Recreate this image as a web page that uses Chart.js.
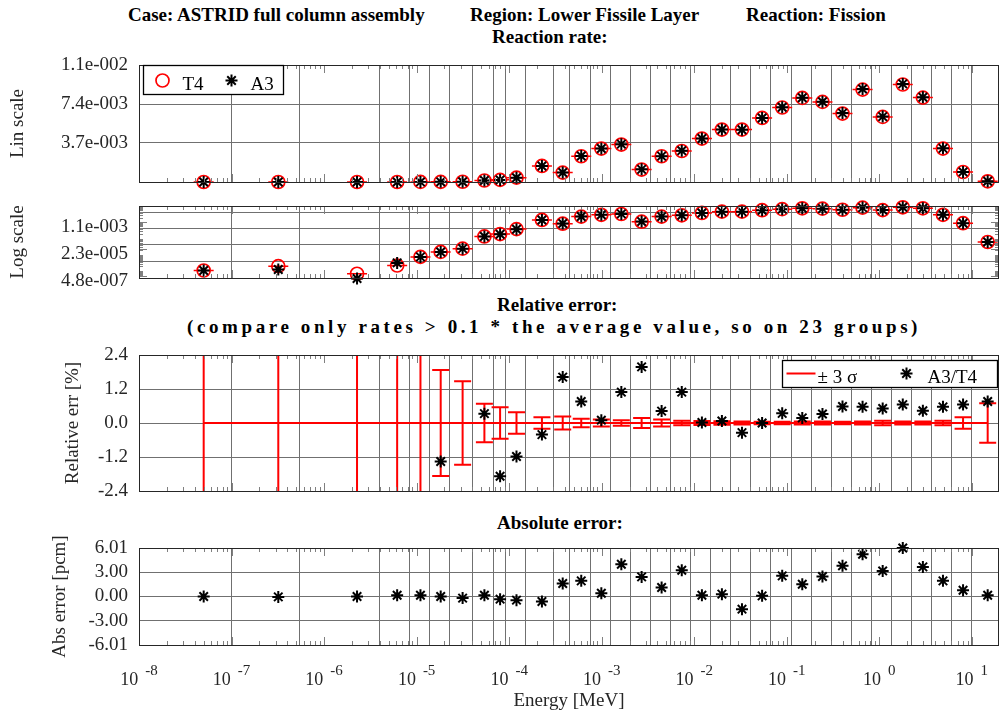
<!DOCTYPE html>
<html>
<head>
<meta charset="utf-8">
<script src="https://cdn.jsdelivr.net/npm/chart.js@4.4.1/dist/chart.umd.min.js"></script>
<style>
html,body{margin:0;padding:0;background:#ffffff;overflow:hidden;}
#page{position:relative;width:1000px;height:713px;background:#fff;}
canvas{position:absolute;left:0;}
.ttl{position:absolute;font-family:"Liberation Serif","Times New Roman",serif;font-weight:bold;font-size:19px;line-height:19px;white-space:nowrap;color:#000;}
</style>
</head>
<body>
<div id="page">
<div class="ttl" style="left:128px;top:5px">Case: ASTRID full column assembly</div>
<div class="ttl" style="left:470px;top:5px">Region: Lower Fissile Layer</div>
<div class="ttl" style="left:746px;top:5px">Reaction: Fission</div>
<div class="ttl" style="left:492px;top:27px">Reaction rate:</div>
<div class="ttl" style="left:497px;top:295px">Relative error:</div>
<div class="ttl" style="left:187px;top:317px;letter-spacing:3.6px">(compare only rates &gt; 0.1 * the average value, so on 23 groups)</div>
<div class="ttl" style="left:497px;top:513px">Absolute error:</div>
<canvas id="cLin" width="1000" height="165" style="top:41px"></canvas>
<canvas id="cLog" width="1000" height="120" style="top:182px"></canvas>
<canvas id="cRel" width="1000" height="184" style="top:331px"></canvas>
<canvas id="cAbs" width="1000" height="189" style="top:524px"></canvas>
</div>
<script>
// ---------------- data ----------------
const groupBounds = [1e-7,5.4e-7,4.0e-6,8.315e-6,1.371e-5,2.260e-5,4.017e-5,6.790e-5,9.166e-5,1.486e-4,
  3.043e-4,4.540e-4,7.485e-4,1.234e-3,2.035e-3,3.355e-3,5.531e-3,9.119e-3,1.503e-2,2.479e-2,
  4.087e-2,6.738e-2,0.1111,0.1832,0.3020,0.4979,0.8209,1.353,2.231,3.679,6.065,10.0];
const energyMid = [5.0e-8,3.2e-7,2.27e-6,6.16e-6,1.10e-5,1.82e-5,3.14e-5,5.40e-5,7.98e-5,1.20e-4,
  2.26e-4,3.79e-4,6.01e-4,9.91e-4,1.63e-3,2.70e-3,4.44e-3,7.33e-3,1.21e-2,1.99e-2,
  3.28e-2,5.41e-2,8.92e-2,0.147,0.243,0.400,0.659,1.087,1.792,2.955,
  4.872,8.03,14.82];
const rateT4 = [1.12e-6,2.07e-6,7.0e-7,2.28e-6,7.8e-6,1.59e-5,2.53e-5,1.44e-4,2.02e-4,4.1e-4,
  1.52e-3,8.9e-4,2.44e-3,3.17e-3,3.55e-3,1.18e-3,2.44e-3,2.94e-3,4.12e-3,4.97e-3,
  4.97e-3,6.07e-3,7.06e-3,7.97e-3,7.59e-3,6.49e-3,8.76e-3,6.17e-3,9.24e-3,8.0e-3,
  3.17e-3,9.5e-4,6.5e-5];
const rateA3 = [1.12e-6,1.29e-6,3.6e-7,3.3e-6,7.8e-6,1.57e-5,2.53e-5,1.44e-4,1.98e-4,4.05e-4,
  1.51e-3,9.04e-4,2.46e-3,3.17e-3,3.59e-3,1.20e-3,2.45e-3,2.97e-3,4.12e-3,4.97e-3,
  4.95e-3,6.07e-3,7.08e-3,7.98e-3,7.61e-3,6.53e-3,8.81e-3,6.20e-3,9.30e-3,8.04e-3,
  3.19e-3,9.56e-4,6.55e-5];
const relErrA3T4 = [null,null,null,null,null,-1.36,null,0.33,-1.88,-1.18,
  -0.41,1.62,0.76,0.10,1.09,1.98,0.42,1.09,0.02,0.07,
  -0.34,0.0,0.34,0.18,0.32,0.58,0.57,0.51,0.65,0.43,
  0.57,0.65,0.76];
const sigma3T4 = [60,40,30,12,4,1.87,1.47,0.68,0.56,0.38,
  0.20,0.23,0.15,0.12,0.10,0.18,0.12,0.08,0.07,0.06,
  0.05,0.04,0.04,0.05,0.05,0.04,0.05,0.08,0.05,0.05,
  0.08,0.20,0.70];
const absErrPcm = [0.0,-0.05,0.0,0.16,0.16,0.0,-0.2,0.16,-0.33,-0.45,
  -0.62,1.61,1.94,0.41,4.0,2.43,1.11,3.26,0.16,0.29,
  -1.57,0.08,2.56,1.52,2.47,3.8,5.24,3.17,6.01,3.67,
  1.94,0.78,0.16];
const linTickValues = [0.003697,0.007393,0.01109];
const linTickLabels = ['3.7e-003','7.4e-003','1.1e-002'];
const logTickValues = [4.8e-7,2.3e-5,1.1e-3];
const logTickLabels = ['4.8e-007','2.3e-005','1.1e-003'];
const logGridValues = [4.0e-6,4.3e-5,4.4e-4,4.3e-3];
const relTickValues = [-2.4,-1.2,0,1.2,2.4];
const absTickValues = [-6.01,-3,0,3,6.01];
const decadeExponents = [-8,-7,-6,-5,-4,-3,-2,-1,0,1];

// ---------------- style ----------------
const SERIF = '"Liberation Serif","Times New Roman",serif';
const TXT = '#262626';
const GRID = '#707070';
const AXC = '#262626';
const tickFont = {family: SERIF, size: 19};
Chart.defaults.font.family = SERIF;

function pts(ys){ return energyMid.map((e,i)=>({x:e, y:ys[i]})); }

function xAxis(withLabels){
  return {
    type:'logarithmic', min:1e-8, max:19.64,
    afterBuildTicks: s => { s.ticks = groupBounds.map(v=>({value:v})); },
    afterFit: s => { s.height = withLabels ? 68 : 0; },
    ticks:{display:false},
    grid:{color:GRID, lineWidth:1, drawTicks:false},
    border:{display:false},
    title: withLabels ? {display:true, text:'Energy [MeV]', font:tickFont, color:TXT, padding:{top:0,bottom:1}} : {display:false}
  };
}

const framePlugin = {
  id:'frame',
  afterDraw(chart){
    const {ctx, chartArea:a, scales} = chart;
    const xs = scales.x, ys = scales.y;
    ctx.save();
    ctx.strokeStyle = '#808080'; ctx.lineWidth = 1;
    ctx.beginPath();
    for (const e of decadeExponents) for (let k=1;k<=9;k++){
      const v = k*Math.pow(10,e);
      if (v <= xs.min || v >= xs.max) continue;
      const px = Math.round(xs.getPixelForValue(v))+0.5;
      const len = k===1 ? 8 : 4;
      ctx.moveTo(px,a.bottom); ctx.lineTo(px,a.bottom-len);
      ctx.moveTo(px,a.top); ctx.lineTo(px,a.top+len);
    }
    if (ys.type === 'logarithmic'){
      for (let e=-7;e<=-2;e++) for (let k=1;k<=9;k++){
        const v = k*Math.pow(10,e);
        if (v <= ys.min || v >= ys.max) continue;
        const py = Math.round(ys.getPixelForValue(v))+0.5;
        ctx.moveTo(a.left,py); ctx.lineTo(a.left+4,py);
        ctx.moveTo(a.right,py); ctx.lineTo(a.right-4,py);
      }
      for (const v of logTickValues){
        const py = Math.round(ys.getPixelForValue(v))+0.5;
        ctx.moveTo(a.left,py); ctx.lineTo(a.left+8,py);
        ctx.moveTo(a.right,py); ctx.lineTo(a.right-8,py);
      }
    }
    ctx.stroke();
    ctx.strokeStyle = AXC;
    ctx.strokeRect(Math.round(a.left)+0.5, Math.round(a.top)+0.5, Math.round(a.right-a.left)-1, Math.round(a.bottom-a.top));
    ctx.restore();
  }
};

// red caps of the T4 error bars (tiny errors -> caps look like a horizontal dash)
const capsPlugin = {
  id:'caps',
  beforeDatasetsDraw(chart){
    const idx = chart.data.datasets.findIndex(d=>d.label==='T4');
    if (idx<0) return;
    const meta = chart.getDatasetMeta(idx);
    const ctx = chart.ctx;
    ctx.save(); ctx.strokeStyle='#ff0000'; ctx.lineWidth=1.5;
    ctx.beginPath();
    meta.data.forEach(p=>{ if (isFinite(p.x)&&isFinite(p.y)){ ctx.moveTo(p.x-10,p.y); ctx.lineTo(p.x+10,p.y);} });
    ctx.stroke(); ctx.restore();
  }
};

// +-3 sigma error bars in the relative error panel
const errBarPlugin = {
  id:'errbars',
  beforeDatasetsDraw(chart){
    const {ctx, chartArea:a, scales:{x,y}} = chart;
    ctx.save();
    ctx.beginPath(); ctx.rect(a.left,a.top,a.right-a.left,a.bottom-a.top); ctx.clip();
    ctx.strokeStyle='#ff0000'; ctx.lineWidth=2;
    energyMid.forEach((E,i)=>{
      const s = sigma3T4[i];
      const px = x.getPixelForValue(E);
      const yt = y.getPixelForValue(s), yb = y.getPixelForValue(-s);
      ctx.beginPath();
      ctx.moveTo(px,yt); ctx.lineTo(px,yb);
      ctx.moveTo(px-8.5,yt); ctx.lineTo(px+8.5,yt);
      ctx.moveTo(px-8.5,yb); ctx.lineTo(px+8.5,yb);
      ctx.stroke();
    });
    ctx.restore();
  }
};

function legendBox(ctx, x, y, w, h){
  ctx.fillStyle='#fff'; ctx.fillRect(x,y,w,h);
  ctx.strokeStyle='#000'; ctx.lineWidth=1.3; ctx.strokeRect(x,y,w,h);
}
const linLegend = {
  id:'linLegend',
  afterDraw(chart){
    const {ctx, chartArea:a} = chart;
    const L = a.left+4.5, T = a.top+0.5;
    ctx.save();
    legendBox(ctx, L, T, 140, 29);
    ctx.strokeStyle='#ff0000'; ctx.lineWidth=1.7; ctx.beginPath(); ctx.arc(L+19,T+15,6.5,0,Math.PI*2); ctx.stroke();
    ctx.strokeStyle='#000'; ctx.fillStyle='#000'; ctx.lineWidth=2;
    Chart.helpers.drawPoint(ctx, {pointStyle:'star', radius:6, borderWidth:2, rotation:0}, L+88, T+15);
    ctx.font = '19px '+SERIF; ctx.fillStyle='#000'; ctx.textBaseline='alphabetic';
    ctx.fillText('T4', L+39, T+24);
    ctx.fillText('A3', L+107, T+24);
    ctx.restore();
  }
};
const relLegend = {
  id:'relLegend',
  afterDraw(chart){
    const {ctx, chartArea:a} = chart;
    const R = a.right-1.5, T = a.top+5.5, W = 215;
    const L = R-W;
    ctx.save();
    legendBox(ctx, L, T, W, 27);
    ctx.strokeStyle='#ff0000'; ctx.lineWidth=2;
    ctx.beginPath(); ctx.moveTo(L+4,T+13); ctx.lineTo(L+33,T+13); ctx.stroke();
    ctx.strokeStyle='#000'; ctx.fillStyle='#000'; ctx.lineWidth=2;
    Chart.helpers.drawPoint(ctx, {pointStyle:'star', radius:6, borderWidth:2, rotation:0}, L+124, T+13);
    ctx.font = '19px '+SERIF; ctx.fillStyle='#000'; ctx.textBaseline='alphabetic';
    ctx.fillText('\u00B1 3 \u03C3', L+35, T+22);
    ctx.fillText('A3/T4', L+145, T+22);
    ctx.restore();
  }
};
const decadeLabels = {
  id:'decadeLabels',
  afterDraw(chart){
    const {ctx, scales:{x}, chartArea:a} = chart;
    ctx.save(); ctx.fillStyle=TXT; ctx.textBaseline='alphabetic';
    for (const e of decadeExponents){
      const px = x.getPixelForValue(Math.pow(10,e));
      ctx.font = '18px '+SERIF;
      const base = '10'; const wb = ctx.measureText(base).width;
      ctx.font = '15px '+SERIF;
      const ex = String(e); const we = ctx.measureText(ex).width;
      const gap = 7, tot = wb+gap+we;
      const x0 = px - tot/2;
      ctx.font = '18px '+SERIF; ctx.fillText(base, x0, a.bottom+40);
      ctx.font = '15px '+SERIF; ctx.fillText(ex, x0+wb+gap, a.bottom+30);
    }
    ctx.restore();
  }
};

function baseOpts(scales){
  return {
    responsive:false, animation:false, devicePixelRatio:1,
    layout:{autoPadding:false, padding:{left:0,right:1,top:24,bottom:24}},
    plugins:{legend:{display:false}, tooltip:{enabled:false}},
    events:[],
    scales
  };
}
function yCommon(extra){
  return Object.assign({
    afterFit: s => { s.width = 139; },
    grid:{color:GRID, lineWidth:1, drawTicks:false},
    border:{display:false}
  }, extra);
}
const t4Style = {label:'T4', pointStyle:'circle', pointRadius:6.5, pointBorderColor:'#ff0000', pointBackgroundColor:'rgba(0,0,0,0)', pointBorderWidth:1.7, clip:false, order:2};
const a3Style = {label:'A3', pointStyle:'star', pointRadius:6, pointBorderColor:'#000', pointBackgroundColor:'#000', pointBorderWidth:2, clip:false, order:1};

// ---------- panel 1: linear ----------
new Chart(document.getElementById('cLin'), {
  type:'scatter',
  data:{datasets:[Object.assign({data:pts(rateT4)}, t4Style), Object.assign({data:pts(rateA3)}, a3Style)]},
  options: baseOpts({
    x: xAxis(false),
    y: yCommon({
      type:'linear', min:0, max:0.01109,
      afterBuildTicks: s => { s.ticks = linTickValues.map(v=>({value:v})); },
      ticks:{callback:(v,i)=>linTickLabels[i], font:tickFont, color:TXT, padding:11, autoSkip:false},
      title:{display:true, text:'Lin scale', font:tickFont, color:TXT, padding:{top:7,bottom:0}}
    })
  }),
  plugins:[capsPlugin, framePlugin, linLegend]
});

// ---------- panel 2: log ----------
const logAllTicks = logTickValues.concat(logGridValues).sort((a,b)=>a-b);
new Chart(document.getElementById('cLog'), {
  type:'scatter',
  data:{datasets:[Object.assign({data:pts(rateT4)}, t4Style), Object.assign({data:pts(rateA3)}, a3Style)]},
  options: baseOpts({
    x: xAxis(false),
    y: yCommon({
      type:'logarithmic', min:3.83e-7, max:0.01109,
      afterBuildTicks: s => { s.ticks = logAllTicks.map(v=>({value:v})); },
      ticks:{callback:(v)=>{ const k = logTickValues.indexOf(v); return k>=0 ? logTickLabels[k] : ''; },
             font:tickFont, color:TXT, padding:11, autoSkip:false, labelOffset:5},
      grid:{color: c => (c.tick && logTickValues.indexOf(c.tick.value)>=0) ? 'rgba(0,0,0,0)' : GRID, lineWidth:1, drawTicks:false},
      title:{display:true, text:'Log scale', font:tickFont, color:TXT, padding:{top:7,bottom:0}}
    })
  }),
  plugins:[capsPlugin, framePlugin]
});

// ---------- panel 3: relative error ----------
new Chart(document.getElementById('cRel'), {
  type:'scatter',
  data:{datasets:[
    {label:'A3/T4', data:pts(relErrA3T4), pointStyle:'star', pointRadius:6, pointBorderColor:'#000', pointBackgroundColor:'#000', pointBorderWidth:2, clip:false, order:1},
    {label:'\u00B1 3 \u03C3', data:energyMid.map(e=>({x:e,y:0})), showLine:true, borderColor:'#ff0000', borderWidth:2, pointRadius:0, order:2}
  ]},
  options: baseOpts({
    x: xAxis(false),
    y: yCommon({
      type:'linear', min:-2.4, max:2.4,
      afterBuildTicks: s => { s.ticks = relTickValues.map(v=>({value:v})); },
      ticks:{callback:(v)=>Number(v).toFixed(1), font:tickFont, color:TXT, padding:11, autoSkip:false},
      title:{display:true, text:'Relative err [%]', font:tickFont, color:TXT, padding:{top:62,bottom:0}}
    })
  }),
  plugins:[errBarPlugin, framePlugin, relLegend]
});

// ---------- panel 4: absolute error ----------
const absOpts = baseOpts({
  x: xAxis(true),
  y: yCommon({
    type:'linear', min:-6.01, max:6.01,
    afterBuildTicks: s => { s.ticks = absTickValues.map(v=>({value:v})); },
    ticks:{callback:(v)=>Number(v).toFixed(2), font:tickFont, color:TXT, padding:11, autoSkip:false},
    title:{display:true, text:'Abs error [pcm]', font:tickFont, color:TXT, padding:{top:49,bottom:0}}
  })
});
absOpts.layout.padding.bottom = 0;
new Chart(document.getElementById('cAbs'), {
  type:'scatter',
  data:{datasets:[
    {label:'A3-T4', data:pts(absErrPcm), pointStyle:'star', pointRadius:6, pointBorderColor:'#000', pointBackgroundColor:'#000', pointBorderWidth:2, clip:false}
  ]},
  options: absOpts,
  plugins:[framePlugin, decadeLabels]
});
</script>
</body>
</html>
